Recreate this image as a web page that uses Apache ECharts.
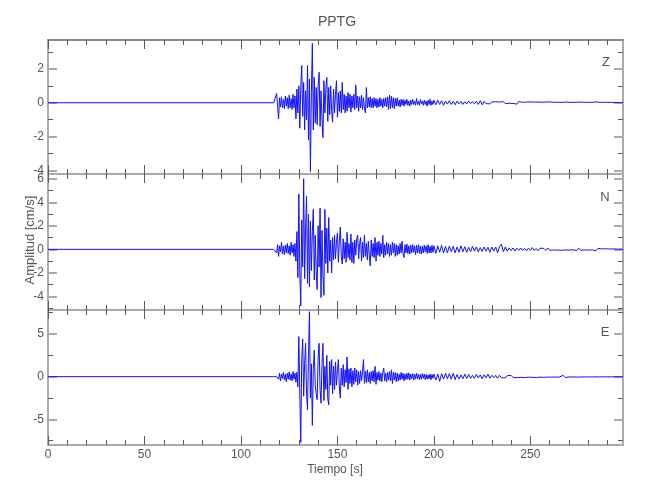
<!DOCTYPE html>
<html><head><meta charset="utf-8">
<script src="https://cdn.jsdelivr.net/npm/echarts@6/dist/echarts.min.js"></script>
<style>html,body{margin:0;padding:0;background:#fff}#c{width:650px;height:500px}</style>
</head><body><div id="c"></div>
<script>
// ---- data ----
const channels = ['Z', 'N', 'E'];
const xTickLabels = [0, 50, 100, 150, 200, 250];
const xMinorTicks = [10,20,30,40,60,70,80,90,110,120,130,140,160,170,180,190,210,220,230,240,260,270,280,290];
const xMin = 0, xMax = 298;
const zRange = [-4.2, 3.7], nRange = [-5.15, 6.4], eRange = [-8, 7.8];
const zTicks = [-4, -2, 0, 2], zMinor = [-3, -1, 1, 3];
const nTicks = [-4, -2, 0, 2, 4, 6], nMinor = [-5, -3, -1, 1, 3, 5];
const eTicks = [-5, 0, 5], eMinor = [-7.5, -2.5, 2.5, 7.5];

// quiet record before the arrival, then samples every 0.5 s, then every 1 s
const quietStart = 0;
const denseStart = 117, denseStep = 0.5;
const tailStart = 201, tailStep = 1;

const zDense = [
 0, 0, 0.02, 0.55, -0.2, -0.95, 0.3, -0.25, 0.35, -0.3,
 0.2, -0.35, 0.4, -0.2, 0.3, -0.35, 0.45, -0.3, 0.25, -0.4,
 0.5, -0.3, 0.4, -0.95, 0.8, -0.6, 1.0, -1.5, 0.9, 2.2,
 -0.8, 1.2, -1.6, 0.7, -1.0, 2.2, -2.2, 1.4, -4.05, 0.6,
 3.5, -1.6, 1.5, -1.2, 0.9, -1.3, 1.0, 1.8, -1.4, 0.7,
 -0.9, -2.05, 1.3, -0.6, 0.8, 1.5, -1.1, 0.9, -0.7, 1.0,
 -0.5, -1.15, 0.8, -0.6, 0.5, 1.3, -0.85, 0.6, -0.5, 0.7,
 -0.6, 1.2, -0.4, 0.5, -0.6, 0.4, -0.5, 0.6, -0.3, 0.5,
 -0.55, 0.4, -0.3, 0.5, -0.4, 1.05, -0.3, 0.4, -0.5, 0.35,
 -0.3, 0.45, -0.4, 0.3, -0.35, -0.6, 0.9, -0.3, 0.3, -0.25,
 0.35, -0.3, 0.25, -0.3, 0.3, -0.2, 0.25, -0.3, 0.2, -0.25,
 0.3, -0.2, 0.2, -0.3, 0.25, -0.2, 0.3, -0.25, 0.35, -0.4,
 0.45, -0.35, 0.4, -0.3, 0.3, -0.35, 0.25, -0.2, 0.3, -0.2,
 0.15, -0.25, 0.2, -0.15, 0.2, -0.2, 0.15, -0.1, 0.2, -0.15,
 0.1, -0.2, 0.15, -0.1, 0.2, -0.1, 0.1, -0.15, 0.25, -0.1,
 0.1, -0.15, 0.2, -0.05, 0.1, -0.15, 0.15, -0.1, 0.1, -0.2,
 0.15, -0.1, 0.2, -0.15, 0.1, -0.1, 0.15
];
const zTail = [
 -0.12, 0.15, -0.1, 0.12, -0.15, 0.1, -0.08, 0.12, -0.1, 0.08,
 -0.12, 0.1, -0.06, 0.08, -0.1, 0.06, -0.08, 0.1, -0.05, 0.07,
 -0.06, 0.08, -0.1, 0.12, -0.12, 0.08, -0.05, 0.06, -0.07, 0.05,
 -0.04, 0.06, -0.05, 0.04, -0.06, 0.07, -0.05, 0.04, -0.03, 0.05,
 -0.04, 0.06, -0.08, 0.07, -0.04, 0.03, -0.05, 0.04, -0.03, 0.05,
 -0.06, 0.04, -0.03, 0.04, -0.05, 0.03, -0.02, 0.04, -0.03, 0.05,
 -0.04, 0.03, -0.02, 0.03, -0.04, 0.02, -0.03, 0.04, -0.02, 0.03,
 -0.03, 0.02, -0.02, 0.03, -0.02, 0.04, -0.03, 0.02, -0.02, 0.03,
 -0.02, 0.02, -0.03, 0.05, -0.03, 0.02, -0.02, 0.03, -0.02, 0.02,
 -0.03, 0.02, -0.01, 0.02, -0.02, 0.01, -0.01, 0.01
];

const nDense = [
 0, 0, 0.05, -0.3, 0.4, -0.6, 0.3, -0.2, 0.6, -0.4,
 0.3, -0.45, 0.35, -0.3, 0.5, -0.35, 0.3, -0.5, 0.6, -0.3,
 0.4, -0.6, 0.5, -1.0, 1.5, -2.4, 4.7, -2.0, -4.8, 2.5,
 -1.5, 6.0, -2.5, 1.8, 4.5, -2.9, 3.0, -3.2, 2.4, -1.8,
 1.5, 3.4, -2.6, 1.2, -1.9, -3.4, 2.0, -1.5, 3.5, -4.1,
 1.6, -2.2, -3.9, 3.4, -1.2, 1.8, -2.0, 2.7, -1.0, 0.8,
 -2.0, 1.0, -0.9, 1.2, -0.8, 0.6, 1.4, -1.1, 0.7, 1.9,
 -0.6, -1.25, 0.9, -0.8, 0.6, -1.1, 1.45, -0.7, 0.5, -0.9,
 1.3, -1.1, 0.6, -1.2, 0.8, -0.5, 0.9, 1.2, -0.8, 0.5,
 1.0, -1.0, 0.6, -0.7, 1.2, -0.6, 0.5, -0.9, 0.7, -0.5,
 -1.4, 0.8, -0.6, 0.5, -0.7, 1.0, -1.0, 0.6, -0.5, 0.7,
 -0.6, 0.5, -0.4, 1.2, -0.7, 0.4, -0.5, 0.6, -0.4, 0.5,
 -0.6, 0.4, -0.5, 0.6, -0.3, 0.5, -0.6, 0.4, -0.5, 0.3,
 -0.4, 0.5, -0.3, 0.7, -0.4, -0.7, 0.4, -0.3, 0.45, -0.35,
 0.3, -0.4, 0.35, -0.3, 0.4, -0.25, 0.3, -0.45, 0.35, -0.3,
 0.4, -0.35, 0.3, -0.4, 0.25, -0.3, 0.35, -0.2, 0.3, -0.35,
 0.4, -0.3, 0.25, -0.3, 0.35, -0.25, 0.3
];
const nTail = [
 -0.35, 0.3, -0.25, 0.35, -0.3, 0.25, -0.3, 0.28, -0.2, 0.25,
 -0.3, 0.2, -0.25, 0.3, -0.2, 0.22, -0.25, 0.18, -0.2, 0.25,
 -0.15, 0.2, -0.22, 0.15, -0.18, 0.2, -0.15, 0.18, -0.25, 0.2,
 -0.15, 0.2, -0.3, 0.25, 0.45, -0.2, 0.2, -0.15, 0.12, -0.1,
 0.12, -0.15, 0.1, -0.08, 0.12, -0.1, 0.08, -0.12, 0.1, -0.08,
 0.15, -0.1, 0.08, -0.12, 0.1, -0.06, 0.08, -0.1, 0.12, -0.08,
 0.06, -0.05, 0.08, -0.06, 0.05, -0.08, 0.06, -0.05, 0.04, -0.06,
 0.05, -0.04, 0.08, -0.1, 0.12, -0.08, 0.06, -0.05, 0.04, -0.06,
 0.05, -0.04, 0.1, -0.12, 0.08, -0.05, 0.04, -0.06, 0.05, -0.04,
 0.03, -0.05, 0.04, -0.03, 0.02, -0.04, 0.03, -0.02
];

const eDense = [
 0, 0, 0, 0, 0.1, -0.3, 0.4, -0.5, 0.3, -0.2,
 0.5, -0.4, 0.3, -0.6, 0.4, -0.3, 0.55, -0.4, 0.3, -0.5,
 0.6, -0.3, 0.4, -0.65, 0.5, -1.2, 4.7, -1.8, -7.7, 2.0,
 4.4, -2.3, 1.5, 3.9, -2.0, -3.9, 2.5, 7.6, -2.5, 1.5,
 -5.7, 1.0, 3.1, -1.0, -2.0, -2.7, 2.2, 3.9, -1.5, -3.1,
 1.4, 3.9, -2.8, 1.2, -1.5, 2.5, -2.6, -3.3, 1.8, -1.0,
 2.0, -2.0, 1.2, -1.5, 1.7, -1.0, 0.8, 2.0, -1.2, -2.5,
 1.0, -1.0, 1.4, -1.2, 0.8, -0.7, 2.3, -1.5, 0.9, -0.8,
 1.0, -1.2, 0.7, -0.9, 1.0, -0.6, 0.8, -1.0, 0.6, -0.8,
 0.7, -0.5, 0.6, 2.0, -0.8, 0.6, -0.7, 0.8, -0.6, 0.5,
 -0.8, 0.6, -0.5, 0.7, -0.6, 1.2, -0.9, 0.5, -0.4, 0.6,
 -0.5, 0.4, -0.6, 0.5, 1.0, -0.5, 0.4, -0.6, 0.5, -0.4,
 0.6, -0.5, 0.8, -0.8, 0.5, -0.4, 0.5, -0.6, 0.4, -0.5,
 0.3, -0.4, 0.5, -0.3, 0.4, -0.5, 0.3, -0.35, 0.4, -0.3,
 0.45, -0.4, 0.3, -0.25, 0.35, -0.4, 0.3, -0.3, 0.4, -0.25,
 0.3, -0.35, 0.25, -0.3, 0.35, -0.2, 0.3, -0.35, 0.25, -0.3,
 0.2, -0.25, 0.3, -0.35, 0.25, -0.2, 0.3
];
const eTail = [
 -0.4, 0.3, -0.55, 0.35, -0.3, 0.4, -0.25, 0.35, -0.3, 0.4,
 -0.35, 0.25, -0.3, 0.2, -0.25, 0.3, -0.2, 0.25, -0.2, 0.15,
 -0.2, 0.25, -0.15, 0.2, -0.25, 0.2, -0.15, 0.3, -0.2, 0.15,
 -0.12, 0.15, -0.2, 0.15, -0.12, 0.1, -0.15, 0.12, -0.1, 0.15,
 -0.1, 0.08, -0.12, 0.1, -0.08, 0.12, -0.1, 0.08, -0.06, 0.1,
 -0.08, 0.06, -0.1, 0.08, -0.06, 0.05, -0.08, 0.06, -0.05, 0.07,
 -0.06, 0.05, -0.04, 0.06, -0.05, 0.04, 0.15, -0.1, 0.05, -0.04,
 0.05, -0.03, 0.04, -0.05, 0.03, -0.04, 0.05, -0.03, 0.04, -0.03,
 0.02, -0.04, 0.03, -0.02, 0.03, -0.03, 0.02, -0.02, 0.03, -0.02,
 0.02, -0.03, 0.02, -0.01, 0.02, -0.02, 0.01, 0
];

// ---- build ----
function buildSeries(dense, tail) {
  const pts = [[quietStart, 0]];
  dense.forEach((v, i) => pts.push([denseStart + i * denseStep, v]));
  tail.forEach((v, i) => pts.push([tailStart + i * tailStep, v]));
  return pts;
}
const seriesData = [buildSeries(zDense, zTail), buildSeries(nDense, nTail), buildSeries(eDense, eTail)];
const ranges = [zRange, nRange, eRange];
const majors = [zTicks, nTicks, eTicks];
const minors = [zMinor, nMinor, eMinor];

const FONT = "'Liberation Sans Narrow','Liberation Sans',sans-serif";
const AXIS_COLOR = '#ababab';
const TICK_COLOR = '#5a5a5a';
const TEXT_COLOR = '#555';
const STRETCH = 'condensed';

const grids = [
  {left: 48, top: 40, width: 575, height: 134},
  {left: 48, top: 174, width: 575, height: 136},
  {left: 48, top: 310, width: 575, height: 135}
];

const xAxes = [], yAxes = [], series = [];
grids.forEach((g, gi) => {
  const showLab = gi === 2;
  ['bottom', 'top'].forEach(pos => {
    xAxes.push({
      type: 'value', gridIndex: gi, position: pos, min: xMin, max: xMax,
      axisLine: {show: true, onZero: false, lineStyle: {color: pos === 'top' && gi === 0 ? '#8a8a8a' : AXIS_COLOR, width: 2}},
      axisTick: {show: true, inside: true, length: 9, customValues: xTickLabels, lineStyle: {color: TICK_COLOR, width: 1}},
      axisLabel: {show: showLab && pos === 'bottom', customValues: xTickLabels, margin: 4, color: TEXT_COLOR, fontFamily: FONT, fontSize: 12},
      splitLine: {show: false}
    });
    xAxes.push({
      type: 'value', gridIndex: gi, position: pos, min: xMin, max: xMax,
      axisLine: {show: false, onZero: false},
      axisTick: {show: true, inside: true, length: 5, customValues: xMinorTicks, lineStyle: {color: TICK_COLOR, width: 1}},
      axisLabel: {show: false},
      splitLine: {show: false}
    });
  });
  ['left', 'right'].forEach(pos => {
    yAxes.push({
      type: 'value', gridIndex: gi, position: pos, min: ranges[gi][0], max: ranges[gi][1],
      axisLine: {show: true, onZero: false, lineStyle: {color: AXIS_COLOR, width: 2}},
      axisTick: {show: true, inside: true, length: 9, customValues: majors[gi], lineStyle: {color: AXIS_COLOR, width: 2}},
      axisLabel: {show: pos === 'left', customValues: majors[gi], margin: 4, color: TEXT_COLOR, fontFamily: FONT, fontSize: 12},
      splitLine: {show: false}
    });
    yAxes.push({
      type: 'value', gridIndex: gi, position: pos, min: ranges[gi][0], max: ranges[gi][1],
      axisLine: {show: false, onZero: false},
      axisTick: {show: true, inside: true, length: 5, customValues: minors[gi], lineStyle: {color: TICK_COLOR, width: 1}},
      axisLabel: {show: false},
      splitLine: {show: false}
    });
  });
  series.push({
    type: 'line', xAxisIndex: gi * 4, yAxisIndex: gi * 4,
    data: seriesData[gi], showSymbol: false, symbol: 'none',
    lineStyle: {color: '#1010ff', width: 1}, animation: false, clip: true
  });
});

function txt(x, y, s, size, rot) {
  const o = {type: 'text', x: x, y: y, style: {text: s, fill: TEXT_COLOR, font: STRETCH + ' ' + size + 'px ' + FONT, align: 'center', verticalAlign: 'middle'}};
  if (rot) o.rotation = rot;
  return o;
}

const chart = echarts.init(document.getElementById('c'), null, {renderer: 'canvas'});
chart.setOption({
  backgroundColor: '#fff',
  animation: false,
  grid: grids,
  xAxis: xAxes,
  yAxis: yAxes,
  series: series,
  graphic: [
    txt(337, 22, 'PPTG', 14),
    txt(335, 470, 'Tiempo [s]', 12),
    txt(30, 240, 'Amplitud [cm/s]', 13, Math.PI / 2),
    txt(606, 62, channels[0], 13),
    txt(605, 197, channels[1], 13),
    txt(605, 332, channels[2], 13)
  ]
});
</script>
</body></html>
